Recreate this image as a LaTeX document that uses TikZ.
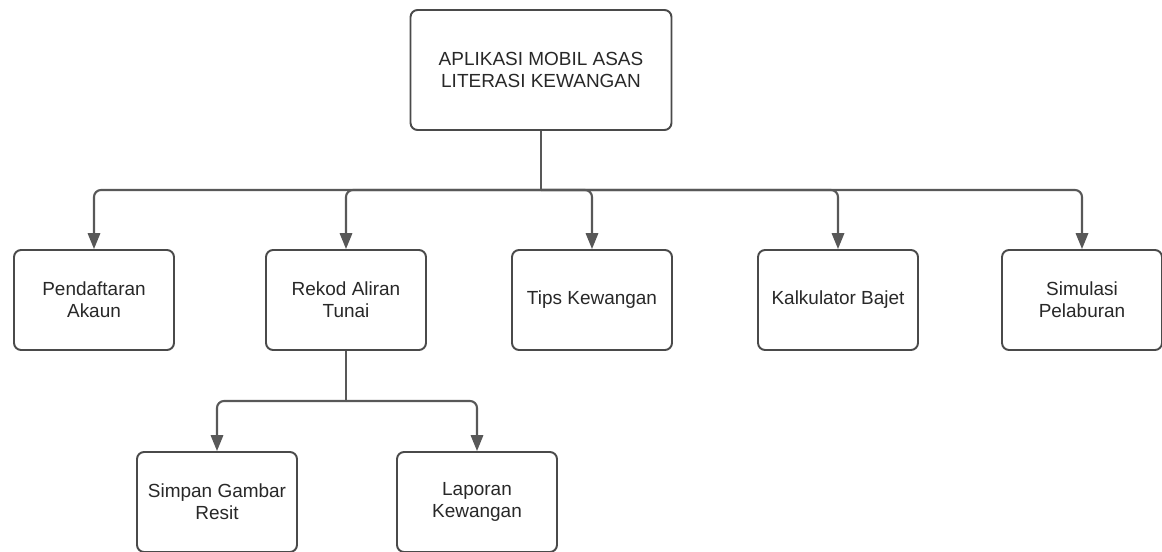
\documentclass[tikz,border=0pt]{standalone}
\usepackage{fontspec}
\setmainfont{Liberation Sans}
\usetikzlibrary{arrows.meta}

\begin{document}
\begin{tikzpicture}[x=0.02cm,y=-0.02cm]
            \definecolor{boxline}{RGB}{74, 74, 74}
            \definecolor{linkline}{RGB}{88, 88, 88}
            \definecolor{boxtext}{RGB}{40, 40, 40}
            \tikzset{
                menubox/.style={draw=boxline, line width=1.1pt, rounded corners=4pt, fill=white,
                    minimum width=3.2cm, minimum height=2cm, align=center,
                    text=boxtext, font=\fontsize{10.8}{12.5}\selectfont},
                link/.style={draw=linkline, line width=1.2pt, rounded corners=4pt},
                linkarrow/.style={link, -{Triangle[length=9pt,width=7pt]}}
            }

            \useasboundingbox (0,0) rectangle (1162,551);

            \node[menubox, minimum width=5.22cm, minimum height=2.4cm] (aplikasi) at (541,70) {APLIKASI MOBIL ASAS\\LITERASI KEWANGAN};

            \node[menubox] (akaun) at (94,300) {Pendaftaran\\Akaun};
            \node[menubox] (rekod) at (346,300) {Rekod Aliran\\Tunai};
            \node[menubox] (tips) at (592,300) {Tips Kewangan};
            \node[menubox] (bajet) at (838,300) {Kalkulator Bajet};
            \node[menubox] (simulasi) at (1082,300) {Simulasi\\Pelaburan};

            \node[menubox] (resit) at (217,502) {Simpan Gambar\\Resit};
            \node[menubox] (laporan) at (477,502) {Laporan\\Kewangan};

            \coordinate (bus1) at (541,190);
            \coordinate (bus2) at (346,401);

            % first level
            \draw[link] (aplikasi.south) -- (bus1);
            \foreach \child in {akaun, rekod, tips, bajet, simulasi}
                \draw[linkarrow] (bus1) -| (\child.north);

            % second level
            \draw[link] (rekod.south) -- (bus2);
            \foreach \child in {resit, laporan}
                \draw[linkarrow] (bus2) -| (\child.north);
\end{tikzpicture}
\end{document}
